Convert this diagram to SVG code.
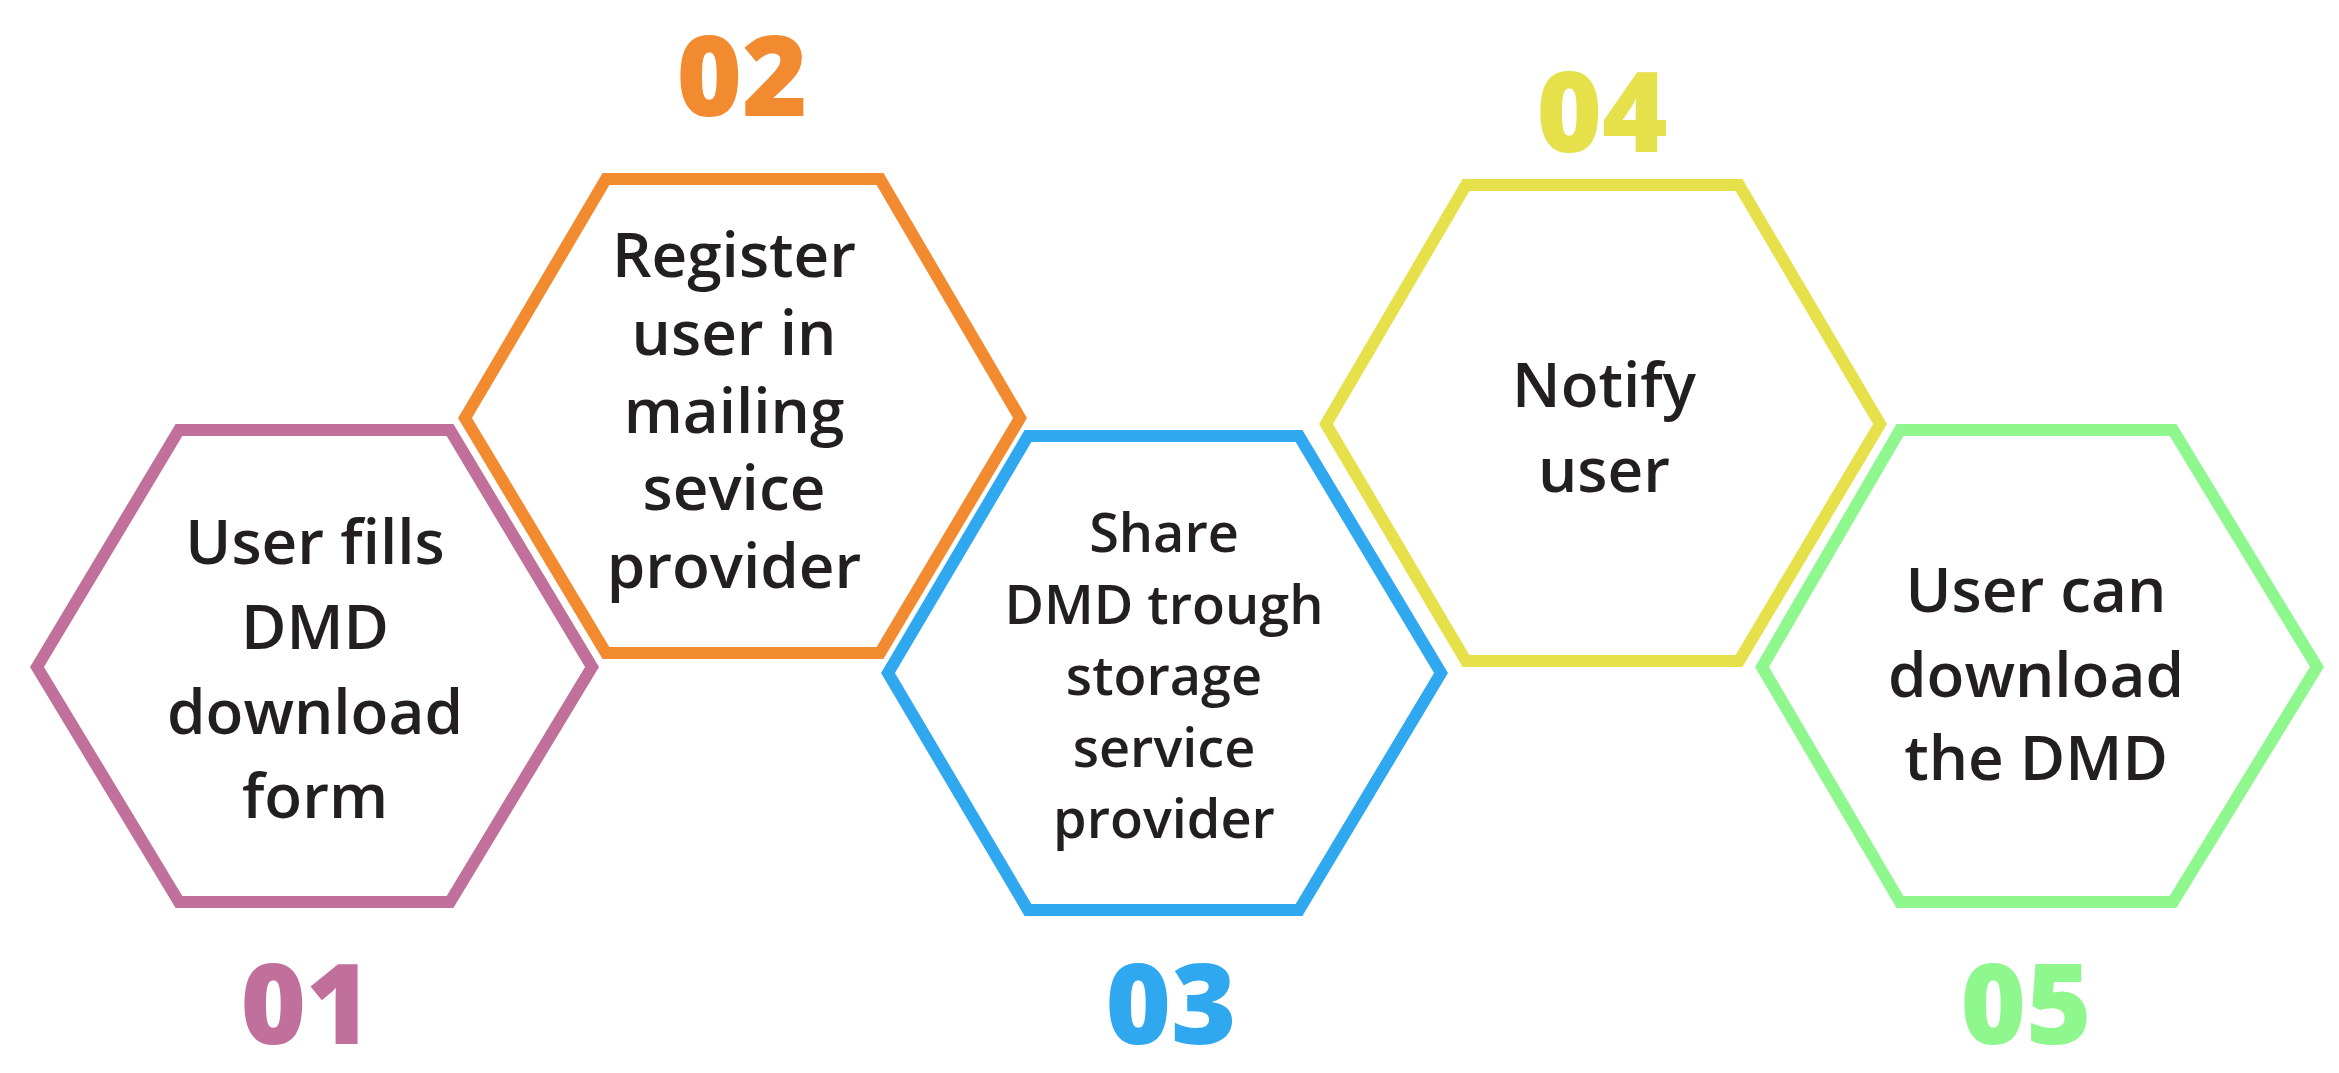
<svg xmlns="http://www.w3.org/2000/svg" width="2339" height="1073" viewBox="0 0 2339 1073">
<style>
.hex{fill:none;stroke-width:12;stroke-linejoin:miter}
.t{font-family:"Open Sans","Liberation Sans",sans-serif;font-weight:600;fill:#231f20;text-anchor:middle;font-size:62px}
.s{font-size:54px}
.n{font-family:"Open Sans","Liberation Sans",sans-serif;font-weight:800;text-anchor:middle;font-size:112px}
</style>
<rect width="2339" height="1073" fill="#fff"/>
<g id="node1">
<polygon class="hex" stroke="#c0709a" points="37,667 179,430 450,430 592,667 450,902 179,902"/>
<text class="t" x="315"><tspan x="315" y="564">User fills</tspan><tspan x="315" y="649">DMD</tspan><tspan x="315" y="734">download</tspan><tspan x="315" y="818">form</tspan></text>
<text class="n" fill="#c0709a" x="306" y="1044">01</text>
</g>
<g id="node2">
<polygon class="hex" stroke="#f28a30" points="465,418 606,179 880,179 1020,418 880,653 606,653"/>
<text class="t" x="734"><tspan x="734" y="277">Register</tspan><tspan x="734" y="355">user in</tspan><tspan x="734" y="433">mailing</tspan><tspan x="734" y="510">sevice</tspan><tspan x="734" y="588">provider</tspan></text>
<text class="n" fill="#f28a30" x="742" y="116">02</text>
</g>
<g id="node3">
<polygon class="hex" stroke="#2fa8f0" points="888,673 1028,436 1299,436 1441,673 1299,910 1028,910"/>
<text class="t s" x="1164"><tspan x="1164" y="552">Share</tspan><tspan x="1164" y="624">DMD trough</tspan><tspan x="1164" y="695">storage</tspan><tspan x="1164" y="767">service</tspan><tspan x="1164" y="838">provider</tspan></text>
<text class="n" fill="#2fa8f0" x="1171" y="1044">03</text>
</g>
<g id="node4">
<polygon class="hex" stroke="#e6e04a" points="1326,424 1466,185 1739,185 1880,424 1739,661 1466,661"/>
<text class="t" x="1604"><tspan x="1604" y="407">Notify</tspan><tspan x="1604" y="492">user</tspan></text>
<text class="n" fill="#e6e04a" x="1602" y="152">04</text>
</g>
<g id="node5">
<polygon class="hex" stroke="#8ef78e" points="1762,667 1900,430 2173,430 2317,667 2173,902 1900,902"/>
<text class="t" x="2036"><tspan x="2036" y="612">User can</tspan><tspan x="2036" y="697">download</tspan><tspan x="2036" y="780">the DMD</tspan></text>
<text class="n" fill="#8ef78e" x="2026" y="1044">05</text>
</g>
<g id="connectors"/>
</svg>
